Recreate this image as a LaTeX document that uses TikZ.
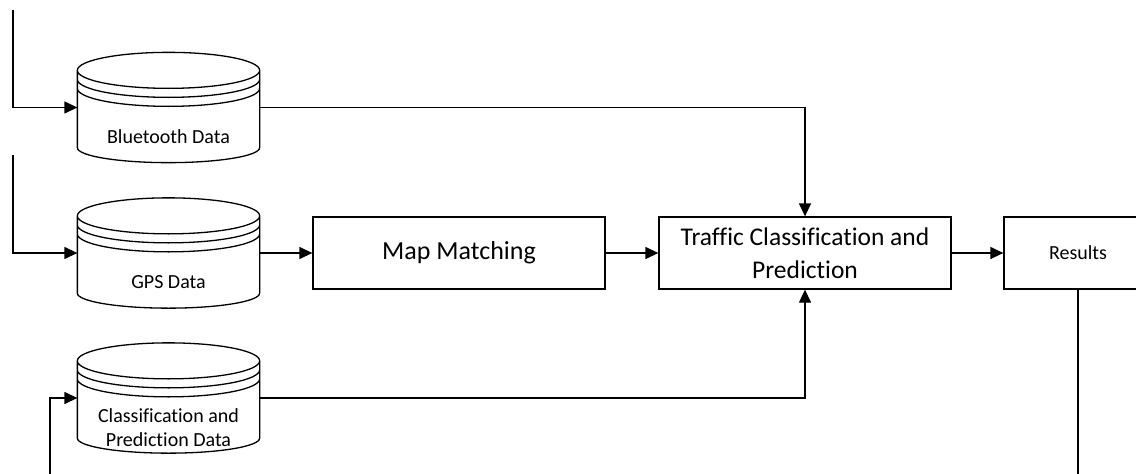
\documentclass[tikz,border=0pt]{standalone}
\usepackage{fontspec}
\setmainfont{Carlito}[Ligatures=CommonOff]
\usetikzlibrary{arrows.meta,calc}

% Stacked-disk database symbol drawn around an invisible node
\newcommand\drawdb[1]{%
  \draw let \p1=(#1.north west), \p2=(#1.south east), \n1={(\x2-\x1)/2} in
    (\x1,\y1-18pt) arc[start angle=180,end angle=-180,x radius=\n1,y radius=18pt]
    (\x1,\y1-27pt) arc[start angle=180,end angle=360,x radius=\n1,y radius=18pt]
    (\x1,\y1-36pt) arc[start angle=180,end angle=360,x radius=\n1,y radius=18pt]
    (\x1,\y1-18pt) -- (\x1,\y2+15pt)
      arc[start angle=180,end angle=360,x radius=\n1,y radius=15pt]
      -- (\x2,\y1-18pt);
}

\begin{document}
\begin{tikzpicture}[x=1pt,y=1pt,line width=1.3pt,
  flow/.style={-{Triangle[length=13pt,width=12pt]}},
  procbox/.style={draw, rectangle, inner sep=0pt, minimum height=72pt, align=center},
  dbnode/.style={rectangle, inner sep=0pt, minimum width=181pt, minimum height=109pt},
  dblabel/.style={label={[anchor=center,yshift=26pt,align=center,
      font=\fontsize{20}{24}\selectfont]south:{#1}}}
]
\useasboundingbox[fill=white] (0,0) rectangle (1136,-474);

% data stores
\node[dbnode, dblabel={Bluetooth Data}] (bt) at (168.5,-107.5) {};
\node[dbnode, dblabel={GPS Data}] (gps) at (168.5,-253) {};
\node[dbnode, dblabel={Classification and\\Prediction Data}] (cpd) at (168.5,-398) {};
\drawdb{bt}
\drawdb{gps}
\drawdb{cpd}

% processing steps
\node[procbox, minimum width=292pt, font=\fontsize{26}{30}\selectfont] (map) at (459,-253) {Map Matching};
\node[procbox, minimum width=292pt, font=\fontsize{25.5}{33}\selectfont] (traffic) at (805,-253)
  {Traffic Classification and\\Prediction};
\node[procbox, minimum width=148pt, font=\fontsize{20}{24}\selectfont] (results) at (1078,-253) {Results};

% incoming and feedback line ends
\coordinate (btin) at (13,-10);
\coordinate (gpsin) at (13,-155);
\coordinate (cpdin) at (50,-474);
\coordinate (resout) at (1078,-474);

% connectors
\draw[flow] (btin) |- (bt.west);
\draw[flow] (gpsin) |- (gps.west);
\draw[flow] (cpdin) |- (cpd.west);
\draw[flow] (gps.east) -- (map.west);
\draw[flow] (map.east) -- (traffic.west);
\draw[flow] (bt.east) -| (traffic.north);
\draw[flow] (cpd.east) -| (traffic.south);
\draw[flow] (traffic.east) -- (results.west);
\draw (results.south) -- (resout);
\end{tikzpicture}
\end{document}
